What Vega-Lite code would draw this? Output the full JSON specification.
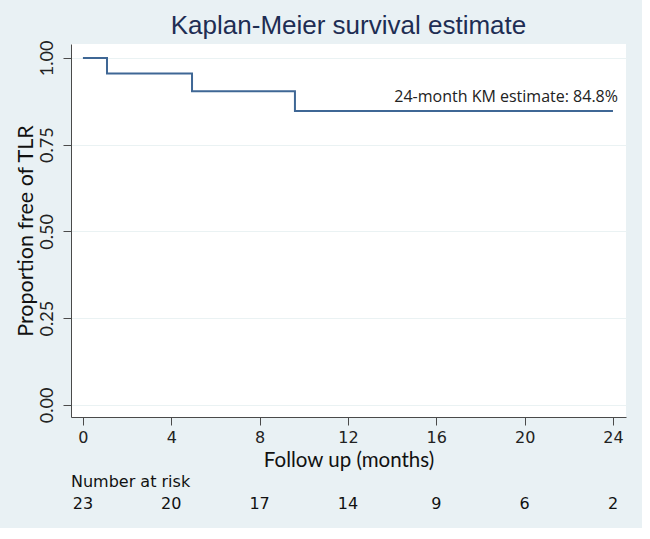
{
  "$schema": "https://vega.github.io/schema/vega-lite/v6.json",
  "background": "#E9F1F4",
  "padding": {"left": 15, "top": 13, "right": 16, "bottom": 12},
  "spacing": 3,
  "config": {
    "view": {"stroke": null},
    "axis": {"domainColor": "#4a4a4a", "tickColor": "#4a4a4a", "labelColor": "#222222", "titleColor": "#111111", "titleFontWeight": "normal"}
  },
  "datasets": {
    "km": [
      {"time": 0, "surv": 1.0},
      {"time": 1.09, "surv": 0.955},
      {"time": 4.94, "surv": 0.904},
      {"time": 9.6, "surv": 0.847},
      {"time": 24, "surv": 0.847}
    ],
    "risk": [
      {"time": 0, "n": 23},
      {"time": 4, "n": 20},
      {"time": 8, "n": 17},
      {"time": 12, "n": 14},
      {"time": 16, "n": 9},
      {"time": 20, "n": 6},
      {"time": 24, "n": 2}
    ],
    "note": [
      {"time": 24, "surv": 0.847, "label": "24-month KM estimate: 84.8%"}
    ]
  },
  "vconcat": [
    {
      "width": 555,
      "height": 373,
      "view": {"fill": "white", "stroke": null},
      "title": {"text": "Kaplan-Meier survival estimate", "fontSize": 26, "font": "Liberation Sans", "fontWeight": "normal", "color": "#1E2D53", "anchor": "middle", "frame": "group", "offset": 1},
      "layer": [
        {
          "data": {"name": "km"},
          "mark": {"type": "line", "interpolate": "step-after", "color": "#3F6795", "strokeWidth": 2},
          "encoding": {
            "x": {"field": "time", "type": "quantitative",
              "scale": {"domain": [-0.54, 24.59], "nice": false, "zero": false},
              "axis": {"values": [0, 4, 8, 12, 16, 20, 24], "title": "Follow up (months)", "grid": false,
                "labelFont": "DejaVu Sans", "labelFontSize": 16, "labelPadding": 4, "tickSize": 8,
                "titleFont": "Lato", "titleFontSize": 20.5, "titlePadding": 5}},
            "y": {"field": "surv", "type": "quantitative",
              "scale": {"domain": [-0.035, 1.04], "nice": false, "zero": false},
              "axis": {"values": [0, 0.25, 0.5, 0.75, 1], "format": ".2f", "title": "Proportion free of TLR",
                "grid": true, "gridColor": "#EAF2F3", "gridWidth": 1,
                "labelAngle": -90, "labelAlign": "center", "labelBaseline": "bottom",
                "labelFont": "Lato", "labelFontSize": 18, "labelPadding": 7, "tickSize": 8,
                "titleFont": "Lato", "titleFontSize": 21.5, "titlePadding": 1}}
          }
        },
        {
          "data": {"name": "note"},
          "mark": {"type": "text", "align": "right", "baseline": "alphabetic", "dx": 5, "dy": -9, "font": "Open Sans", "fontSize": 16, "color": "#222222"},
          "encoding": {
            "x": {"field": "time", "type": "quantitative"},
            "y": {"field": "surv", "type": "quantitative"},
            "text": {"field": "label"}
          }
        }
      ]
    },
    {
      "width": 555,
      "height": 24,
      "data": {"name": "risk"},
      "title": {"text": "Number at risk", "fontSize": 16, "font": "DejaVu Sans", "fontWeight": "normal", "color": "#111111", "anchor": "start", "frame": "group", "offset": 2},
      "mark": {"type": "text", "font": "DejaVu Sans", "fontSize": 16, "color": "#111111"},
      "encoding": {
        "x": {"field": "time", "type": "quantitative",
          "scale": {"domain": [-0.54, 24.59], "nice": false, "zero": false},
          "axis": null},
        "text": {"field": "n", "type": "quantitative"}
      }
    }
  ]
}
